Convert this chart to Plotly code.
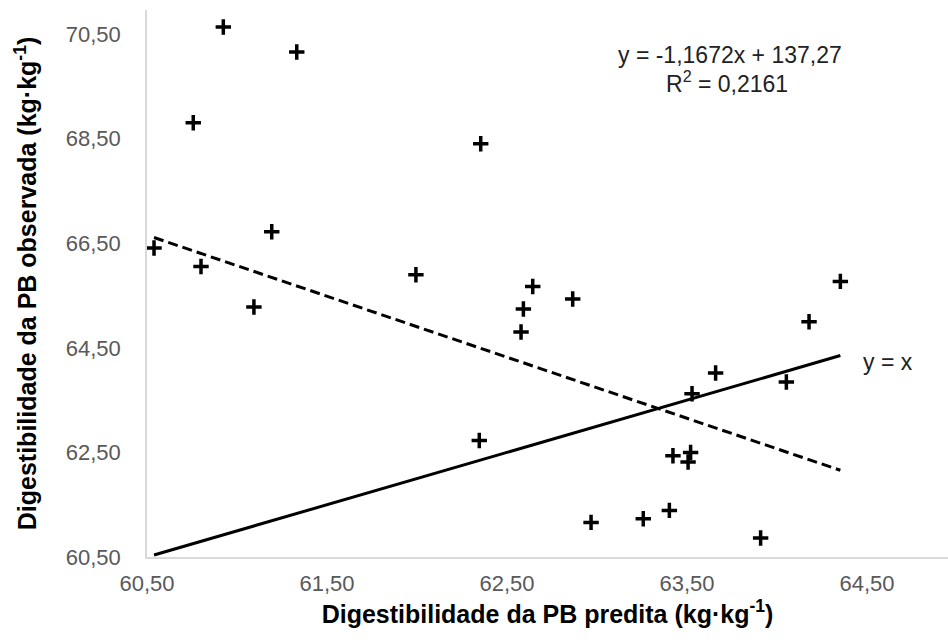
import plotly.graph_objects as go

predicted = [60.924, 61.332, 60.757, 61.193, 60.539, 60.800, 61.094, 62.354, 61.994,
             62.643, 62.865, 62.591, 62.578, 62.346, 63.422, 62.967, 63.257, 63.402,
             64.352, 64.178, 63.659, 64.052, 63.528, 63.520, 63.506, 63.909]
observed = [70.634, 70.156, 68.804, 66.720, 66.408, 66.056, 65.280, 68.402, 65.898,
            65.674, 65.433, 65.242, 64.802, 62.729, 62.437, 61.162, 61.232, 61.391,
            65.770, 64.999, 64.018, 63.846, 63.622, 62.500, 62.316, 60.863]

slope = -1.1672
intercept = 137.27

x_ticks = [60.5, 61.5, 62.5, 63.5, 64.5]
x_tick_text = ["60,50", "61,50", "62,50", "63,50", "64,50"]
y_ticks = [60.5, 62.5, 64.5, 66.5, 68.5, 70.5]
y_tick_text = ["60,50", "62,50", "64,50", "66,50", "68,50", "70,50"]

xmin, xmax = min(predicted), max(predicted)
line_x = [xmin, xmax]
trend_y = [slope * v + intercept for v in line_x]

FONT = "Liberation Sans, Arial, sans-serif"

fig = go.Figure()
fig.add_trace(go.Scatter(x=line_x, y=line_x, mode="lines",
                         line=dict(color="black", width=3), hoverinfo="skip"))
fig.add_trace(go.Scatter(x=line_x, y=trend_y, mode="lines",
                         line=dict(color="black", width=3, dash="10px,5px"), hoverinfo="skip"))
fig.add_trace(go.Scatter(x=predicted, y=observed, mode="markers",
                         marker=dict(symbol="cross-thin", size=11, color="black",
                                     line=dict(color="black", width=3.5))))

ann_font = dict(family=FONT, size=23, color="#222222")
fig.add_annotation(xref="paper", yref="paper", x=(730 - 147) / (948 - 147), y=(557 - 55) / 547,
                   text="y = -1,1672x + 137,27", showarrow=False,
                   font=ann_font, xanchor="center", yanchor="middle")
fig.add_annotation(xref="paper", yref="paper", x=(727 - 147) / (948 - 147), y=(557 - 82) / 547,
                   text="R<sup>2</sup> = 0,2161", showarrow=False,
                   font=ann_font, xanchor="center", yanchor="middle")
fig.add_annotation(xref="paper", yref="paper", x=(888 - 147) / (948 - 147), y=(557 - 362) / 547,
                   text="y = x", showarrow=False,
                   font=ann_font, xanchor="center", yanchor="middle")

fig.update_layout(
    width=948, height=643,
    margin=dict(l=147, r=0, t=10, b=86),
    paper_bgcolor="white", plot_bgcolor="white",
    showlegend=False,
    font=dict(family=FONT, color="#595959"),
)
fig.update_xaxes(
    range=[60.5, 64.95], tickvals=x_ticks, ticktext=x_tick_text,
    tickfont=dict(family=FONT, size=22, color="#595959"),
    showgrid=False, zeroline=False, showline=True, linecolor="#D9D9D9", linewidth=1.5,
    ticks="", ticklabelstandoff=6,
    title=dict(text="<b>Digestibilidade da PB predita (kg·kg<sup>-1</sup>)</b>",
               font=dict(family=FONT, size=25, color="black"), standoff=6),
)
fig.update_yaxes(
    range=[60.5, 70.96], tickvals=y_ticks, ticktext=y_tick_text,
    tickfont=dict(family=FONT, size=22, color="#595959"),
    showgrid=False, zeroline=False, showline=True, linecolor="#D9D9D9", linewidth=1.5,
    ticks="", ticklabelstandoff=20,
    title=dict(text="<b>Digestibilidade da PB observada (kg·kg<sup>-1</sup>)</b>",
               font=dict(family=FONT, size=25, color="black"), standoff=22),
)

fig.write_html("out.html")
